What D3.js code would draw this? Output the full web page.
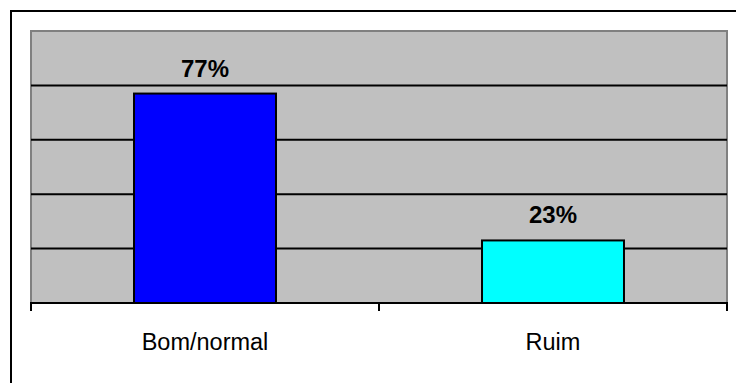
<!DOCTYPE html>
<html>
<head>
<meta charset="utf-8">
<script src="https://cdn.jsdelivr.net/npm/d3@7"></script>
<style>
  html, body { margin: 0; padding: 0; background: #ffffff; }
  svg { display: block; }
  text { font-family: Arial, "Liberation Sans", sans-serif; fill: #000; }
</style>
</head>
<body>
<svg id="chart" width="736" height="383"></svg>
<script>
// Categories and their shares
const categories = ["Bom/normal", "Ruim"];
const shares = [0.77, 0.23];
const barColors = ["#0000FF", "#00FFFF"];
const gridTicks = [0, 0.2, 0.4, 0.6, 0.8, 1.0];

const svg = d3.select("#chart");
const W = 736, H = 383;
const plot = { left: 31, right: 727, top: 31, bottom: 303 };

// Outer chart frame (continues past the right/bottom edges)
svg.append("rect")
  .attr("x", 11).attr("y", 11)
  .attr("width", 760).attr("height", 420)
  .attr("fill", "#ffffff")
  .attr("stroke", "#000").attr("stroke-width", 2);

const x = d3.scaleBand()
  .domain(categories)
  .range([plot.left, plot.right])
  .paddingInner(0.592)
  .paddingOuter(0.296);

const y = d3.scaleLinear()
  .domain([0, 1])
  .range([plot.bottom, plot.top]);

// Plot background
svg.append("rect")
  .attr("x", plot.left).attr("y", plot.top)
  .attr("width", plot.right - plot.left)
  .attr("height", plot.bottom - plot.top)
  .attr("fill", "#C0C0C0")
  .attr("stroke", "#808080").attr("stroke-width", 2);

// Horizontal gridlines
svg.append("g")
  .selectAll("line")
  .data(gridTicks.filter(t => t > 0 && t < 1))
  .join("line")
  .attr("x1", plot.left).attr("x2", plot.right)
  .attr("y1", d => y(d)).attr("y2", d => y(d))
  .attr("stroke", "#000").attr("stroke-width", 2);

// Bars
svg.append("g")
  .selectAll("rect")
  .data(categories)
  .join("rect")
  .attr("x", d => x(d))
  .attr("y", (d, i) => y(shares[i]))
  .attr("width", x.bandwidth())
  .attr("height", (d, i) => y(0) - y(shares[i]))
  .attr("fill", (d, i) => barColors[i])
  .attr("stroke", "#000").attr("stroke-width", 2);

// Category axis with boundary ticks between categories
const axisLine = svg.append("g");
axisLine.append("line")
  .attr("x1", plot.left - 1).attr("x2", plot.right + 1)
  .attr("y1", plot.bottom).attr("y2", plot.bottom)
  .attr("stroke", "#000").attr("stroke-width", 2);

const step = x.step();
const boundaries = d3.range(categories.length + 1).map(i => plot.left + i * step);
axisLine.selectAll("line.tick")
  .data(boundaries)
  .join("line")
  .attr("class", "tick")
  .attr("x1", d => d).attr("x2", d => d)
  .attr("y1", plot.bottom).attr("y2", plot.bottom + 8)
  .attr("stroke", "#000").attr("stroke-width", 2);

// Category labels
svg.append("g")
  .selectAll("text")
  .data(categories)
  .join("text")
  .attr("x", d => x(d) + x.bandwidth() / 2)
  .attr("y", 350)
  .attr("text-anchor", "middle")
  .attr("font-size", 23.5)
  .text(d => d);

// Value labels above bars
svg.append("g")
  .selectAll("text")
  .data(categories)
  .join("text")
  .attr("x", d => x(d) + x.bandwidth() / 2)
  .attr("y", (d, i) => y(shares[i]) - 17)
  .attr("text-anchor", "middle")
  .attr("font-size", 24)
  .attr("font-weight", "bold")
  .text((d, i) => Math.round(shares[i] * 100) + "%");
</script>
</body>
</html>
